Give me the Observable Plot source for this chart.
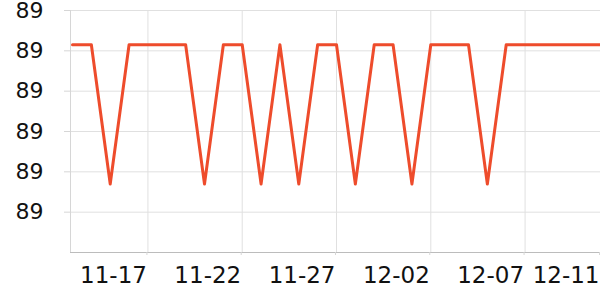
<!DOCTYPE html>
<html>
<head>
<meta charset="utf-8">
<script src="https://cdn.jsdelivr.net/npm/d3@7"></script>
<script src="https://cdn.jsdelivr.net/npm/@observablehq/plot@0.6"></script>
<style>
  html, body { margin: 0; padding: 0; background: #fff; }
  #chart svg { display: block; }
  #chart svg text { font-family: "DejaVu Sans", sans-serif; }
</style>
</head>
<body>
<div id="chart"></div>
<script>
// Data
const dates = ["2023-11-13","2023-11-14","2023-11-15","2023-11-16","2023-11-17","2023-11-18","2023-11-19","2023-11-20","2023-11-21","2023-11-22","2023-11-23","2023-11-24","2023-11-25","2023-11-26","2023-11-27","2023-11-28","2023-11-29","2023-11-30","2023-12-01","2023-12-02","2023-12-03","2023-12-04","2023-12-05","2023-12-06","2023-12-07","2023-12-08","2023-12-09","2023-12-10","2023-12-11"];
const values = [88.9915,88.9915,88.957,88.9915,88.9915,88.9915,88.9915,88.957,88.9915,88.9915,88.957,88.9915,88.957,88.9915,88.9915,88.957,88.9915,88.9915,88.957,88.9915,88.9915,88.9915,88.957,88.9915,88.9915,88.9915,88.9915,88.9915,88.9915];
const xTickLabels = ["2023-11-17","2023-11-22","2023-11-27","2023-12-02","2023-12-07","2023-12-11"];
const yTicks = [88.95, 88.96, 88.97, 88.98, 88.99, 89.00];
const yDomain = [88.94, 89.00];

const parse = d3.utcParse("%Y-%m-%d");
const data = dates.map((d, i) => ({date: parse(d), value: values[i]}));
const xTicks = xTickLabels.map(parse);

const chart = Plot.plot({
  width: 600,
  height: 300,
  marginLeft: 70,
  marginRight: 0,
  marginTop: 10,
  marginBottom: 48,
  style: {fontFamily: "DejaVu Sans, sans-serif", background: "#fff", color: "#111"},
  x: {type: "utc", domain: [data[0].date, data[data.length - 1].date], range: [72, 600]},
  y: {domain: yDomain},
  marks: [
    Plot.gridY(yTicks, {stroke: "#e0e0e0", strokeOpacity: 1}),
    Plot.gridX(xTicks, {stroke: "#e0e0e0", strokeOpacity: 1}),
    Plot.frame({anchor: "left", stroke: "#d6d6d6"}),
    Plot.frame({anchor: "bottom", stroke: "#bcbcbc"}),
    Plot.axisY(yTicks, {
      tickSize: 6, tickPadding: 21, stroke: "#d6d6d6", fill: "#111",
      tickFormat: d => d3.format(".0f")(d), fontSize: 22, label: null
    }),
    Plot.axisX(xTicks, {
      tickSize: 3, tickPadding: 11, stroke: "#d6d6d6", fill: "#111",
      textAnchor: "end", dx: -1, tickFormat: d3.utcFormat("%m-%d"), fontSize: 23, label: null
    }),
    Plot.lineY(data, {x: "date", y: "value", stroke: "#ee4c2c", strokeWidth: 3})
  ]
});
document.getElementById("chart").appendChild(chart);
</script>
</body>
</html>
